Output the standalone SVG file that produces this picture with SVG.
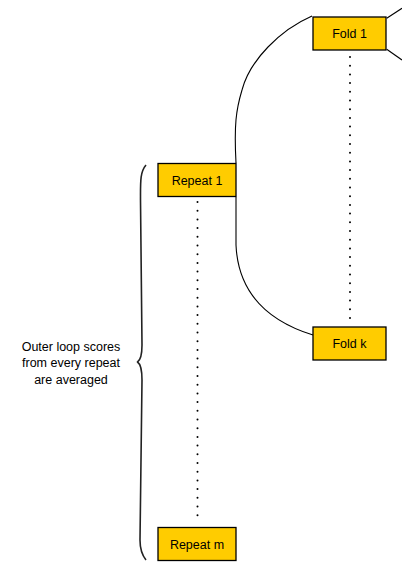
<svg xmlns="http://www.w3.org/2000/svg" width="402" height="586" viewBox="0 0 402 586">
<style>
.box{fill:#FFCC00;stroke:#000;stroke-width:1.3}
.lbl{font-family:"Liberation Sans",Arial,sans-serif;font-size:12.5px;fill:#000;text-anchor:middle}
.edge{fill:none;stroke:#000;stroke-width:1.1}
.dots{fill:none;stroke:#000;stroke-width:2;stroke-linecap:round;stroke-dasharray:0 8.7}
.brace{fill:none;stroke:#222;stroke-width:1.6;stroke-linejoin:round}
</style>
<rect width="402" height="586" fill="#fff"/>
<g id="connectors">
<path class="edge" d="M312,16 C280,30 250,60 242,90 C236,110 234,125 236,163"/>
<path class="edge" d="M236,197 L236,245 C238,290 265,320 313,335"/>
<path class="edge" d="M386.7,18.3 L402,8.3"/>
<path class="edge" d="M386.7,49.3 L402,60"/>
<path class="dots" d="M350,57 L350,322"/>
<path class="dots" d="M197.5,202 L197.5,522"/>
</g>
<g id="brace">
<path class="brace" d="M146,165 C140,172 140.5,182 140.5,200 L142,345 C142,356 140.5,360 137.5,362 C140.5,364 142,368 142,380 L140,540 C140,550 142,555 146,560"/>
<text class="lbl" x="71" y="351">Outer loop scores</text>
<text class="lbl" x="71" y="367">from every repeat</text>
<text class="lbl" x="71" y="384">are averaged</text>
</g>
<g id="fold1">
<rect class="box" x="313" y="17" width="73" height="33"/>
<text class="lbl" x="349.5" y="38">Fold 1</text>
</g>
<g id="foldk">
<rect class="box" x="313" y="327" width="73" height="33"/>
<text class="lbl" x="349.5" y="348">Fold k</text>
</g>
<g id="repeat1">
<rect class="box" x="158" y="163.5" width="78" height="33"/>
<text class="lbl" x="197" y="184.5">Repeat 1</text>
</g>
<g id="repeatm">
<rect class="box" x="158" y="527.5" width="78" height="33"/>
<text class="lbl" x="197" y="548.5">Repeat m</text>
</g>
</svg>
